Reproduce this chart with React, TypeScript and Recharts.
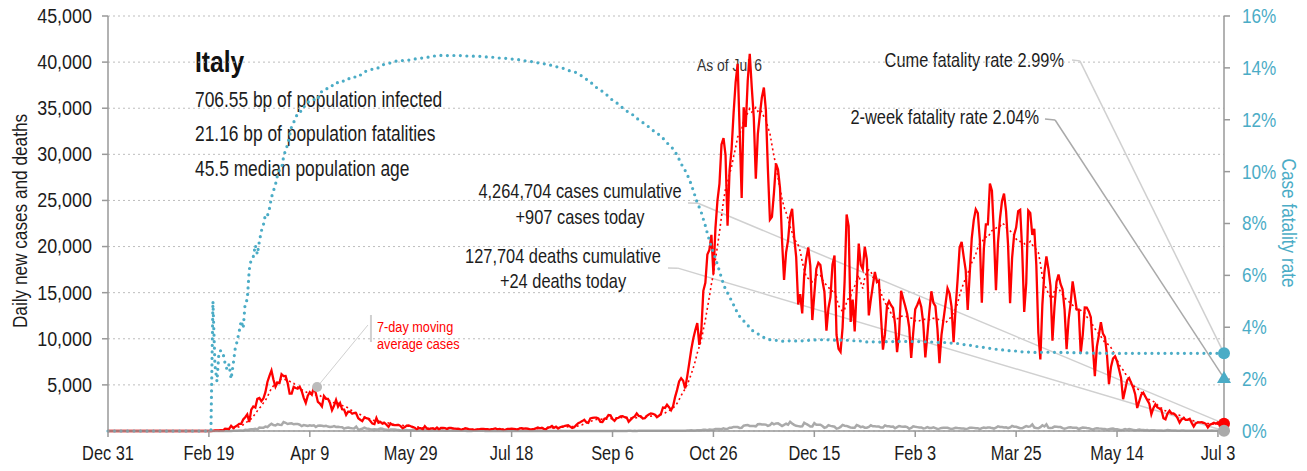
import React from 'react';
import { LineChart, Line, XAxis, YAxis, CartesianGrid, ReferenceDot, ReferenceLine } from 'recharts';

const FONT = '"Liberation Sans", Arial, sans-serif';
const BLUE = '#4bacc6';
const RED = '#ff0000';
const GRAY = '#aaaaaa';
const TEXT = '#1c1c1c';

// Daily new cases, Italy, from Dec 31 2019 (day 0) to Jul 6 2021 (day 553)
const dailyCases: number[] = [
  0, // Dec 31
  0, 0, 0, 0, 0, 0, 0, 0, 0, 0, 0, 0, 0, 0, 0, 0, 0, 0, 0, 0, 0, 0, 0, 0, 0, 0, 0, 0, 0, 0, 2, // Jan 2020
  0, 0, 0, 0, 0, 1, 0, 0, 0, 0, 0, 0, 0, 0, 0, 0, 0, 0, 0, 0, 17, 59, 78, 72, 93, 78, 250, 238, 240, // Feb
  566, 342, 466, 587, 769, 778, 1247, 1492, 1797, 977, 2313, 2651, 2547, 3497, 3590, 3233, 3526, 4207, 5322, 5986, 6557, 5560, 4789, 5249, 5210, 6153, 5959, 5974, 5217, 4050, 4053, // Mar
  4782, 4668, 4585, 4805, 4316, 3599, 3039, 3836, 4204, 3951, 4694, 4092, 3153, 2972, 2667, 3786, 3493, 3491, 3047, 2256, 2729, 3370, 2646, 3021, 2357, 2324, 1739, 2091, 2086, 1872, // Apr
  1965, 1900, 1389, 1221, 1075, 1444, 1401, 1327, 1083, 802, 744, 1402, 888, 992, 789, 875, 675, 451, 813, 665, 642, 652, 669, 531, 300, 397, 584, 593, 516, 416, 355, // May
  178, 318, 321, 177, 518, 270, 197, 280, 283, 202, 379, 163, 346, 338, 301, 210, 329, 333, 251, 262, 224, 218, 122, 190, 296, 259, 175, 174, 126, 142, // Jun
  187, 201, 223, 235, 192, 208, 138, 193, 229, 276, 188, 234, 169, 114, 162, 230, 233, 249, 219, 190, 129, 282, 306, 252, 275, 255, 170, 181, 202, 288, 379, // Jul
  295, 347, 239, 190, 384, 402, 552, 347, 463, 259, 412, 481, 523, 574, 629, 479, 320, 403, 642, 845, 947, 1071, 1210, 953, 878, 1367, 1411, 1460, 1444, 1365, 996, // Aug
  978, 1326, 1397, 1733, 1695, 1297, 1108, 1370, 1434, 1597, 1616, 1501, 1458, 1008, 1229, 1452, 1585, 1907, 1638, 1587, 1350, 1392, 1640, 1786, 1912, 1869, 1766, 1494, 1648, 1851, // Sep
  2548, 2499, 2844, 2578, 2257, 2677, 3678, 4458, 5372, 5724, 5456, 4619, 5901, 7332, 8804, 10010, 10925, 11705, 9338, 10874, 15199, 16079, 19143, 19644, 21273, 17012, 21994, 24991, 26831, 31084, 31758, // Oct
  29907, 22253, 28244, 30550, 34505, 37809, 39811, 32616, 25271, 35098, 32961, 37978, 40902, 37255, 33979, 27354, 32191, 34283, 36176, 37242, 34767, 28337, 22930, 23232, 25853, 29003, 28352, 26323, 20648, 16377, // Nov
  19350, 20709, 23225, 24099, 21052, 18887, 13720, 14842, 12756, 16999, 18727, 19903, 17938, 12030, 14844, 17572, 18236, 17992, 16308, 15104, 10872, 13318, 14522, 18040, 19037, 10407, 8913, 8585, 11212, 16202, 23477, // Dec
  22211, 11831, 14245, 10800, 15378, 20331, 18020, 17533, 19978, 18627, 12532, 14242, 15774, 17246, 16146, 16310, 12545, 8824, 10497, 13571, 14078, 13633, 13331, 11629, 8561, 10593, 15204, 14372, 13574, 12715, 11252, // Jan 2021
  7925, 10630, 13189, 13659, 14218, 13442, 11641, 7970, 10404, 12956, 15146, 13908, 13532, 11068, 7351, 10386, 12074, 13762, 15479, 14931, 13452, 9630, 13314, 16424, 19886, 20499, 18916, 17455, // Feb
  13114, 17083, 20884, 22865, 24036, 23641, 20765, 13902, 19749, 22409, 22409, 26824, 26062, 21315, 15267, 20396, 23059, 24935, 25735, 23832, 20159, 13846, 18765, 21267, 22057, 23839, 23987, 19611, 12916, 16017, 23904, // Mar
  23649, 21261, 21932, 18025, 10680, 7767, 13708, 17221, 18938, 17567, 15746, 9789, 13447, 16168, 16974, 15943, 15370, 13158, 8864, 12074, 13844, 16232, 14761, 13176, 13158, 8444, 10404, 13385, 13370, 12965, // Apr
  12345, 9148, 5948, 9116, 10404, 11807, 10554, 10176, 8292, 5080, 6946, 7852, 8085, 7567, 6659, 5753, 3455, 4452, 5506, 5741, 5218, 4717, 3995, 2490, 3224, 3937, 4147, 3738, 3351, 2949, 1820, // May
  2483, 2897, 2557, 2436, 2275, 1390, 1273, 1896, 2199, 1901, 1904, 1723, 1390, 907, 1255, 1400, 1197, 1197, 1325, 881, 495, 835, 927, 927, 951, 880, 778, 389, 679, 776, // Jun
  882, 794, 932, 808, 480, 907, // Jul 1-6
];

// Daily new deaths, same days
const dailyDeaths: number[] = [
  0, // Dec 31
  0, 0, 0, 0, 0, 0, 0, 0, 0, 0, 0, 0, 0, 0, 0, 0, 0, 0, 0, 0, 0, 0, 0, 0, 0, 0, 0, 0, 0, 0, 0, // Jan 2020
  0, 0, 0, 0, 0, 0, 0, 0, 0, 0, 0, 0, 0, 0, 0, 0, 0, 0, 0, 0, 1, 1, 1, 4, 3, 2, 5, 4, 8, // Feb
  5, 18, 27, 28, 41, 49, 36, 133, 97, 168, 196, 189, 250, 175, 368, 349, 345, 475, 427, 627, 793, 651, 601, 743, 683, 662, 969, 889, 756, 812, 837, // Mar
  727, 760, 766, 681, 525, 636, 604, 542, 610, 570, 619, 431, 566, 602, 578, 525, 575, 482, 433, 454, 534, 437, 464, 420, 415, 260, 333, 382, 323, 285, // Apr
  269, 474, 174, 195, 236, 369, 274, 243, 194, 165, 179, 172, 195, 262, 242, 153, 145, 99, 162, 161, 156, 130, 119, 50, 92, 78, 117, 70, 87, 111, 75, // May
  60, 55, 71, 78, 75, 72, 53, 65, 79, 71, 53, 56, 68, 44, 26, 34, 43, 56, 37, 49, 24, 23, 18, 30, 30, 8, 22, 8, 23, 21, // Jun
  21, 30, 15, 21, 7, 8, 30, 12, 12, 13, 12, 7, 9, 17, 11, 13, 11, 14, 9, 3, 15, 9, 9, 5, 5, 4, 5, 11, 6, 3, 3, // Jul
  8, 10, 11, 17, 10, 6, 9, 6, 4, 5, 21, 13, 6, 7, 3, 4, 5, 7, 7, 6, 12, 9, 7, 4, 9, 13, 6, 9, 9, 9, 13, // Aug
  6, 6, 10, 10, 11, 8, 14, 10, 10, 6, 10, 10, 7, 14, 14, 9, 20, 10, 24, 15, 14, 17, 20, 20, 17, 24, 17, 17, 24, 24, // Sep
  23, 23, 27, 18, 16, 28, 28, 22, 28, 29, 26, 39, 41, 43, 83, 55, 47, 69, 73, 89, 127, 136, 91, 151, 128, 141, 221, 205, 217, 199, 297, // Oct
  208, 233, 353, 352, 445, 446, 425, 331, 356, 580, 623, 636, 550, 544, 546, 504, 731, 753, 699, 699, 692, 562, 630, 853, 722, 822, 827, 686, 541, 672, // Nov
  785, 684, 993, 814, 662, 564, 528, 491, 499, 887, 761, 649, 484, 491, 846, 680, 683, 674, 543, 352, 415, 628, 553, 505, 459, 261, 305, 445, 659, 575, 555, // Dec
  462, 364, 347, 348, 649, 548, 414, 483, 361, 361, 448, 616, 507, 522, 477, 475, 377, 377, 603, 524, 521, 472, 488, 299, 420, 541, 492, 467, 477, 421, 237, // Jan 2021
  329, 499, 456, 421, 391, 385, 274, 307, 422, 336, 316, 391, 311, 221, 258, 336, 347, 353, 347, 280, 232, 274, 356, 318, 308, 280, 280, 225, // Feb
  255, 343, 347, 339, 297, 307, 207, 318, 376, 332, 373, 380, 317, 264, 354, 502, 431, 423, 386, 401, 300, 386, 551, 460, 460, 380, 297, 297, 417, 529, 467, // Mar
  501, 718, 376, 326, 296, 421, 627, 487, 718, 344, 331, 360, 476, 469, 429, 429, 310, 251, 316, 390, 401, 360, 342, 344, 217, 301, 373, 364, 316, 288, // Apr
  226, 144, 256, 305, 267, 258, 207, 224, 139, 198, 251, 262, 201, 182, 136, 93, 140, 201, 149, 218, 177, 125, 72, 110, 166, 121, 118, 86, 103, 44, 83, // May
  93, 73, 59, 61, 59, 26, 65, 102, 77, 52, 52, 52, 26, 36, 63, 52, 37, 37, 28, 17, 21, 31, 30, 21, 31, 28, 14, 22, 24, 42, // Jun
  21, 24, 14, 31, 12, 24, // Jul 1-6
];

const tickDays: number[] = [0, 50, 100, 150, 200, 250, 300, 350, 400, 450, 500, 550];
const tickLabels: string[] = ['Dec 31', 'Feb 19', 'Apr 9', 'May 29', 'Jul 18', 'Sep 6', 'Oct 26', 'Dec 15', 'Feb 3', 'Mar 25', 'May 14', 'Jul 3'];
const leftTicks: number[] = [5000, 10000, 15000, 20000, 25000, 30000, 35000, 40000, 45000];
const rightTicks: number[] = [0, 2, 4, 6, 8, 10, 12, 14, 16];
const TWO_WEEK_CFR = 2.04;

// derived series: trailing 7-day average of cases, cumulative fatality rate
const rows = (() => {
  let cc = 0;
  let cd = 0;
  return dailyCases.map((c, i) => {
    cc += c;
    cd += dailyDeaths[i];
    const from = Math.max(0, i - 6);
    const win = dailyCases.slice(from, i + 1);
    const ma = win.reduce((a, b) => a + b, 0) / win.length;
    return { day: i, cases: c, deaths: dailyDeaths[i], ma, cfr: cc > 0 ? (cd / cc) * 100 : 0 };
  });
})();
const LAST = rows.length - 1;
const last = rows[LAST];

// narrow text: Liberation Sans squeezed horizontally to mimic a condensed face
const NText = (p: any) => {
  const { x, y, dy, anchor = 'start', size, fill = TEXT, weight, rotate = 0, sx = 0.82, children } = p;
  return (
    <text
      transform={`translate(${x},${y}) rotate(${rotate}) scale(${sx},1)`}
      x={0}
      y={0}
      dy={dy}
      textAnchor={anchor}
      fontSize={size}
      fill={fill}
      fontWeight={weight}
      fontFamily={FONT}
    >
      {children}
    </text>
  );
};

const XTick = (props: any) => (
  <NText x={props.x} y={props.y} dy="0.71em" anchor="middle" size={19.5} sx={0.84}>
    {tickLabels[tickDays.indexOf(props.payload.value)] ?? ''}
  </NText>
);
const LeftTick = (props: any) => (
  <NText x={props.x} y={props.y} dy="0.355em" anchor="end" size={19.5} sx={0.92}>
    {Number(props.payload.value).toLocaleString('en-US')}
  </NText>
);
const RightTick = (props: any) => (
  <NText x={props.x} y={props.y} dy="0.355em" anchor="start" size={19.5} sx={0.88} fill={BLUE}>
    {`${props.payload.value}%`}
  </NText>
);

const Triangle = (props: any) => {
  const { cx, cy } = props;
  return <polygon points={`${cx},${cy - 7} ${cx - 7},${cy + 5} ${cx + 7},${cy + 5}`} fill={BLUE} />;
};

export default function App() {
  return (
    <div style={{ position: 'absolute', left: 0, top: 0, width: 1307, height: 471, background: '#fff', fontFamily: FONT, overflow: 'hidden' }}>
      <svg width={1307} height={471} style={{ position: 'absolute', left: 0, top: 0 }}>
        <NText x={195} y={72} size={30} weight="bold" fill="#111">Italy</NText>
        <NText x={195} y={107} size={22} sx={0.79}>706.55 bp of population infected</NText>
        <NText x={195} y={141} size={22} sx={0.79}>21.16 bp of population fatalities</NText>
        <NText x={195} y={176} size={22} sx={0.79}>45.5 median population age</NText>
        <NText x={697} y={71} size={17} fill="#333">As of Jul 6</NText>
        <NText x={1064} y={67} anchor="end" size={20.5} sx={0.8}>Cume fatality rate 2.99%</NText>
        <NText x={1039} y={124} anchor="end" size={20.5} sx={0.8}>2-week fatality rate 2.04%</NText>
        <NText x={580} y={198} anchor="middle" size={20.5} sx={0.8}>4,264,704 cases cumulative</NText>
        <NText x={580} y={224} anchor="middle" size={20.5} sx={0.8}>+907 cases today</NText>
        <NText x={563} y={263} anchor="middle" size={20.5} sx={0.8}>127,704 deaths cumulative</NText>
        <NText x={563} y={288} anchor="middle" size={20.5} sx={0.8}>+24 deaths today</NText>
        <NText x={377} y={332} size={15.5} fill={RED}>7-day moving</NText>
        <NText x={377} y={349} size={15.5} fill={RED}>average cases</NText>
        <NText x={27} y={221} rotate={-90} anchor="middle" size={21}>Daily new cases and deaths</NText>
        <NText x={1282} y={223} rotate={90} anchor="middle" size={21} fill={BLUE}>Case fatality rate</NText>
      </svg>
      <div style={{ position: 'absolute', left: 0, top: 0 }}>
        <LineChart width={1307} height={471} data={rows} margin={{ top: 16, right: 0, bottom: 0, left: 0 }}>
          <CartesianGrid yAxisId="left" vertical={false} stroke="#bdbdbd" strokeDasharray="2 3" />
          <XAxis
            dataKey="day"
            type="number"
            domain={[0, LAST]}
            ticks={tickDays}
            interval={0}
            height={40}
            tickSize={6}
            tickMargin={9}
            stroke="#999"
            strokeWidth={1.5}
            tick={<XTick />}
          />
          <YAxis
            yAxisId="left"
            width={108}
            domain={[0, 45000]}
            ticks={leftTicks}
            interval={0}
            tickSize={6}
            tickMargin={10}
            stroke="#999"
            strokeWidth={1.5}
            tick={<LeftTick />}
          />
          <YAxis
            yAxisId="right"
            orientation="right"
            width={83}
            domain={[0, 16]}
            ticks={rightTicks}
            interval={0}
            tickSize={6}
            tickMargin={12}
            stroke="#999"
            strokeWidth={1.5}
            tick={<RightTick />}
          />
          <ReferenceLine yAxisId="right" segment={[{ x: 477.7, y: 14.3 }, { x: 481.6, y: 14.27 }]} stroke="#d0d0d0" strokeWidth={1.5} ifOverflow="visible" />
          <ReferenceLine yAxisId="right" segment={[{ x: 481.6, y: 14.27 }, { x: LAST, y: last.cfr }]} stroke="#d0d0d0" strokeWidth={1.5} ifOverflow="visible" />
          <ReferenceLine yAxisId="right" segment={[{ x: 464.3, y: 12.03 }, { x: 469.3, y: 11.99 }]} stroke="#aaa" strokeWidth={1.5} ifOverflow="visible" />
          <ReferenceLine yAxisId="right" segment={[{ x: 469.3, y: 11.99 }, { x: LAST, y: TWO_WEEK_CFR }]} stroke="#aaa" strokeWidth={1.5} ifOverflow="visible" />
          <ReferenceLine yAxisId="left" segment={[{ x: 287.4, y: 24720 }, { x: 292.4, y: 24700 }]} stroke="#d0d0d0" strokeWidth={1.5} ifOverflow="visible" />
          <ReferenceLine yAxisId="left" segment={[{ x: 292.4, y: 24700 }, { x: LAST, y: last.ma }]} stroke="#d0d0d0" strokeWidth={1.5} ifOverflow="visible" />
          <ReferenceLine yAxisId="left" segment={[{ x: 277.5, y: 17680 }, { x: 282.4, y: 17660 }]} stroke="#d0d0d0" strokeWidth={1.5} ifOverflow="visible" />
          <ReferenceLine yAxisId="left" segment={[{ x: 282.4, y: 17660 }, { x: LAST, y: last.deaths }]} stroke="#d0d0d0" strokeWidth={1.5} ifOverflow="visible" />
          <ReferenceLine yAxisId="left" segment={[{ x: 103.6, y: 4770 }, { x: 128.8, y: 11490 }]} stroke="#d0d0d0" strokeWidth={1} ifOverflow="visible" />
          <ReferenceLine yAxisId="left" segment={[{ x: 130.3, y: 12580 }, { x: 130.3, y: 9650 }]} stroke="#d0d0d0" strokeWidth={2} ifOverflow="visible" />
          <Line yAxisId="left" type="linear" dataKey="deaths" stroke={GRAY} strokeWidth={2.5} dot={false} isAnimationActive={false} />
          <Line yAxisId="left" type="linear" dataKey="cases" stroke={RED} strokeWidth={2.3} dot={false} isAnimationActive={false} />
          <Line yAxisId="left" type="linear" dataKey="ma" stroke={RED} strokeWidth={1.6} strokeDasharray="2 3" dot={false} isAnimationActive={false} />
          <Line yAxisId="right" type="linear" dataKey="cfr" stroke={BLUE} strokeWidth={3.2} strokeDasharray="0 6.5" strokeLinecap="round" dot={false} isAnimationActive={false} />
          <ReferenceDot yAxisId="left" x={103.6} y={4770} r={5} fill="#bbb" stroke="none" ifOverflow="visible" />
          <ReferenceDot yAxisId="left" x={LAST} y={last.ma} r={6} fill={RED} stroke="none" ifOverflow="visible" />
          <ReferenceDot yAxisId="left" x={LAST} y={last.deaths} r={6} fill={GRAY} stroke="none" ifOverflow="visible" />
          <ReferenceDot yAxisId="right" x={LAST} y={last.cfr} r={6} fill={BLUE} stroke="none" ifOverflow="visible" />
          <ReferenceDot yAxisId="right" x={LAST} y={TWO_WEEK_CFR} r={7} shape={Triangle} ifOverflow="visible" />
        </LineChart>
      </div>
    </div>
  );
}
